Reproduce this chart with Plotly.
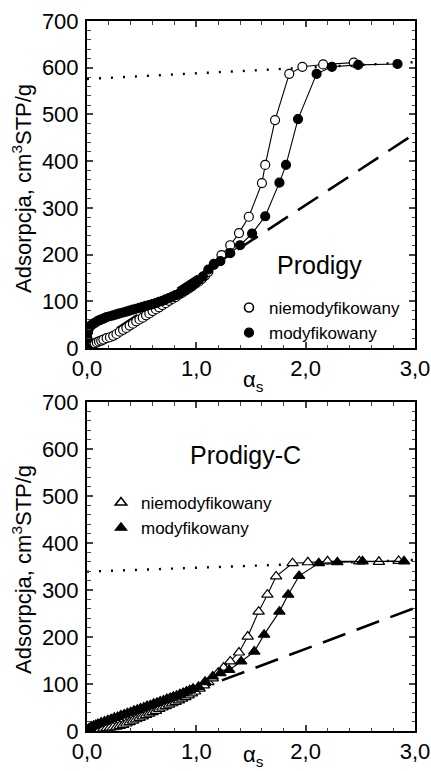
import plotly.graph_objects as go

# ---------------- data: Prodigy (top) ----------------
top_open_x = [0.00, 0.01, 0.02, 0.03, 0.05, 0.07, 0.09, 0.11, 0.13, 0.15, 0.18, 0.21, 0.24, 0.27, 0.30,
              0.33, 0.36, 0.39, 0.42, 0.45, 0.48, 0.51, 0.54, 0.57, 0.60, 0.63, 0.66, 0.69, 0.72, 0.75,
              0.78, 0.81, 0.84, 0.87, 0.90, 0.93, 0.96, 0.99, 1.02, 1.05, 1.08, 1.11, 1.16, 1.23, 1.31,
              1.39, 1.48, 1.60, 1.63, 1.72, 1.85, 1.97, 2.16, 2.44]
top_open_y = [0, 2, 4, 6, 8, 10, 12, 14, 16, 18, 21, 23, 26, 30, 35,
              39, 43, 48, 52, 57, 61, 65, 70, 74, 79, 83, 87, 92, 96, 101,
              105, 109, 114, 118, 123, 127, 132, 137, 142, 148, 155, 163, 180, 199, 220,
              246, 281, 353, 392, 488, 587, 602, 607, 611]

top_fill_x = [0.00, 0.005, 0.01, 0.015, 0.02, 0.03, 0.04, 0.06, 0.08, 0.10, 0.12, 0.14, 0.16, 0.18, 0.21,
              0.24, 0.27, 0.30, 0.33, 0.36, 0.39, 0.42, 0.45, 0.48, 0.51, 0.54, 0.57, 0.60, 0.63, 0.66,
              0.69, 0.72, 0.75, 0.78, 0.81, 0.84, 0.87, 0.90, 0.93, 0.96, 0.99, 1.02, 1.06, 1.11, 1.16,
              1.22, 1.31, 1.40, 1.51, 1.63, 1.76, 1.82, 1.93, 2.10, 2.24, 2.48, 2.84]
top_fill_y = [0, 20, 34, 41, 45, 47, 49, 52, 55, 58, 60, 62, 64, 66, 68,
              70, 72, 74, 76, 78, 80, 82, 84, 86, 88, 90, 92, 94, 96, 99,
              101, 104, 107, 110, 113, 116, 120, 124, 129, 134, 139, 145, 153, 168, 178,
              186, 203, 220, 245, 282, 354, 392, 490, 587, 602, 606, 608]

top_dot_x = [0.0, 3.0]
top_dot_y = [576, 612]
top_dash_x = [0.0, 3.0]
top_dash_y = [0, 459]

# ---------------- data: Prodigy-C (bottom) ----------------
bot_open_x = [0.00, 0.03, 0.06, 0.09, 0.12, 0.15, 0.18, 0.21, 0.24, 0.27, 0.30, 0.33, 0.36, 0.39, 0.42,
              0.45, 0.48, 0.51, 0.54, 0.57, 0.60, 0.63, 0.66, 0.69, 0.72, 0.75, 0.78, 0.81, 0.84, 0.87,
              0.90, 0.93, 0.96, 0.99, 1.03, 1.07, 1.11, 1.15, 1.20, 1.25, 1.31, 1.39, 1.47, 1.57, 1.65,
              1.73, 1.88, 2.02, 2.20, 2.49, 2.67, 2.85]
bot_open_y = [0, 1, 2, 3, 4, 5, 6, 7, 8, 9, 11, 13, 16, 19, 22,
              25, 28, 31, 34, 37, 40, 43, 47, 50, 53, 56, 59, 62, 65, 69,
              72, 76, 80, 84, 90, 97, 104, 112, 124, 135, 148, 167, 201, 254, 290,
              329, 357, 359, 361, 361, 360, 362]

bot_fill_x = [0.00, 0.01, 0.02, 0.04, 0.06, 0.08, 0.10, 0.13, 0.16, 0.19, 0.22, 0.25, 0.28, 0.31, 0.34,
              0.37, 0.40, 0.43, 0.46, 0.49, 0.52, 0.55, 0.58, 0.61, 0.64, 0.67, 0.70, 0.73, 0.76, 0.79,
              0.82, 0.85, 0.88, 0.91, 0.94, 0.97, 1.02, 1.08, 1.15, 1.22, 1.30, 1.41, 1.53, 1.62, 1.76,
              1.84, 1.94, 2.12, 2.29, 2.52, 2.90]
bot_fill_y = [0, 3, 6, 9, 11, 13, 15, 18, 20, 23, 25, 28, 30, 33, 35,
              38, 40, 43, 45, 48, 50, 53, 55, 58, 60, 63, 65, 68, 70, 73,
              75, 78, 81, 84, 87, 90, 94, 105, 116, 123, 130, 148, 169, 205, 254,
              290, 330, 357, 359, 361, 361]

bot_dot_x = [0.0, 3.0]
bot_dot_y = [339, 364]
bot_dash_x = [0.0, 3.0]
bot_dash_y = [0, 262]

x_tickvals = [0, 1, 2, 3]
x_ticktext = ["0,0", "1,0", "2,0", "3,0"]
y_tickvals = [0, 100, 200, 300, 400, 500, 600, 700]
series_names = ["niemodyfikowany", "modyfikowany"]

FONT = "Arial, 'Liberation Sans', Helvetica, sans-serif"
W, H = 431, 771

def px_x(p):
    return p / W

def px_y(p):
    return 1 - p / H

fig = go.Figure()

def add_panel(xa, ya, ox, oy, fx, fy, dotx, doty, dashx, dashy, sym_open, sym_fill, msize, legend):
    fig.add_trace(go.Scatter(x=dashx, y=dashy, mode="lines", xaxis=xa, yaxis=ya, showlegend=False,
                             line=dict(color="black", width=2.6, dash="24px,12px")))
    fig.add_trace(go.Scatter(x=dotx, y=doty, mode="lines", xaxis=xa, yaxis=ya, showlegend=False,
                             line=dict(color="black", width=2.4, dash="2px,10px")))
    fig.add_trace(go.Scatter(x=ox, y=oy, mode="lines+markers", xaxis=xa, yaxis=ya, showlegend=False,
                             line=dict(color="black", width=1.1),
                             marker=dict(symbol=sym_open, size=msize, color="white",
                                         line=dict(color="black", width=1.2))))
    fig.add_trace(go.Scatter(x=fx, y=fy, mode="lines+markers", xaxis=xa, yaxis=ya, showlegend=False,
                             line=dict(color="black", width=1.1),
                             marker=dict(symbol=sym_fill, size=msize, color="black",
                                         line=dict(color="black", width=1.2))))
    # legend entries (marker only)
    fig.add_trace(go.Scatter(x=[None], y=[None], mode="markers", xaxis=xa, yaxis=ya, name=series_names[0],
                             legend=legend,
                             marker=dict(symbol=sym_open, size=msize, color="white",
                                         line=dict(color="black", width=1.6))))
    fig.add_trace(go.Scatter(x=[None], y=[None], mode="markers", xaxis=xa, yaxis=ya, name=series_names[1],
                             legend=legend,
                             marker=dict(symbol=sym_fill, size=msize, color="black",
                                         line=dict(color="black", width=1.2))))

add_panel("x", "y", top_open_x, top_open_y, top_fill_x, top_fill_y,
          top_dot_x, top_dot_y, top_dash_x, top_dash_y, "circle", "circle", 9, "legend")
add_panel("x2", "y2", bot_open_x, bot_open_y, bot_fill_x, bot_fill_y,
          bot_dot_x, bot_dot_y, bot_dash_x, bot_dash_y, "triangle-up", "triangle-up", 10, "legend2")

def xaxis_cfg(anchor):
    return dict(domain=[px_x(87), px_x(415)], anchor=anchor, range=[0, 3.0],
                tickvals=x_tickvals, ticktext=x_ticktext, ticks="inside", ticklen=6, tickwidth=1.5,
                minor=dict(dtick=0.2, ticks="inside", ticklen=3.5, tickwidth=1.2, showgrid=False),
                showline=True, linecolor="black", linewidth=2, mirror="ticks",
                showgrid=False, zeroline=False, automargin=False,
                tickfont=dict(family=FONT, size=22, color="black"))

def yaxis_cfg(anchor, y0, y1):
    return dict(domain=[px_y(y1), px_y(y0)], anchor=anchor, range=[0, 700],
                tickvals=y_tickvals, ticks="inside", ticklen=6, tickwidth=1.5,
                minor=dict(dtick=20, ticks="inside", ticklen=3.5, tickwidth=1.2, showgrid=False),
                showline=True, linecolor="black", linewidth=2, mirror="ticks",
                showgrid=False, zeroline=False, automargin=False, ticklabelstandoff=2,
                tickfont=dict(family=FONT, size=22, color="black"))

def ann(xp, yp, text, size, angle=0):
    return dict(x=px_x(xp), y=px_y(yp), xref="paper", yref="paper", showarrow=False,
                xanchor="center", yanchor="middle", text=text, textangle=angle,
                font=dict(family=FONT, size=size, color="black"))

annotations = []
for yc in (189, 570):
    annotations.append(ann(22, yc, "Adsorpcja, cm<sup>3</sup>STP/g", 22, -90))
for yc in (381, 756):
    annotations.append(ann(254, yc, "α<sub>s</sub>", 22))
annotations.append(ann(319, 265, "Prodigy", 25))
annotations.append(ann(245, 455, "Prodigy-C", 25))

leg_common = dict(xref="paper", yref="paper", xanchor="left", yanchor="top",
                  bgcolor="rgba(0,0,0,0)", borderwidth=0, itemwidth=30, tracegroupgap=0,
                  font=dict(family=FONT, size=17, color="black"))

fig.update_layout(
    width=W, height=H, autosize=False,
    margin=dict(l=0, r=0, t=0, b=0),
    paper_bgcolor="white", plot_bgcolor="white",
    xaxis=xaxis_cfg("y"),
    yaxis=yaxis_cfg("x", 21, 348),
    xaxis2=xaxis_cfg("y2"),
    yaxis2=yaxis_cfg("x2", 402, 731),
    legend=dict(x=px_x(229), y=px_y(290), **leg_common),
    legend2=dict(x=px_x(101), y=px_y(485), **leg_common),
    annotations=annotations,
    showlegend=True,
)

fig.write_html("out.html", config={"displayModeBar": False},
               post_script="document.body.style.margin='0px';")
